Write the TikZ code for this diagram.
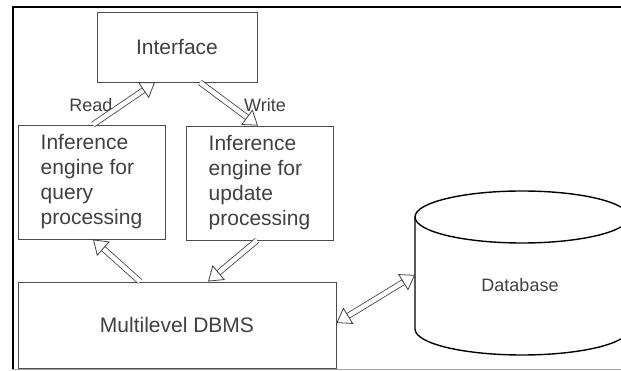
\documentclass[tikz,border=0pt]{standalone}
\usepackage{fontspec}
\setmainfont{Liberation Sans}
\usetikzlibrary{arrows.meta}
\def\frametop{(12,364) -- (621,364)}
\def\frameleft{(13,365) -- (13,2)}
\def\dbtop{(522,154) ellipse (107 and 26)}
\def\dbside{(415,154) -- (415,42) arc (180:360:107 and 26) -- (629,154)}
\begin{document}
\begin{tikzpicture}[x=1pt,y=1pt,
  box/.style={draw=black!70, line width=0.9pt, text=black!75, font=\fontsize{21}{25}\selectfont},
  lbl/.style={text=black!75, font=\fontsize{18}{20}\selectfont},
  hol/.style={draw=black!75, line width=0.8pt, double=white, double distance=4.5pt,
    -{Triangle[open, length=14pt, width=19pt]}},
  hol2/.style={hol, {Triangle[open, length=14pt, width=19pt]}-{Triangle[open, length=14pt, width=19pt]}}]
\useasboundingbox (0,0) rectangle (621,371);
\draw[line width=2.5pt] \frametop;
\draw[line width=1.8pt] \frameleft;
\draw[black!35, line width=1pt] (12,1.5) -- (621,1.5);
% boxes
\node[box, minimum width=160pt, minimum height=70pt] (iface) at (177,324) {Interface};
\node[box, minimum width=147pt, minimum height=114pt, align=left] (qe) at (91.5,189) {Inference\\engine for\\query\\processing};
\node[box, minimum width=147pt, minimum height=114pt, align=left] (ue) at (259.5,188) {Inference\\engine for\\update\\processing};
\node[box, minimum width=318pt, minimum height=86pt] (dbms) at (177,46) {Multilevel DBMS};
% database
\draw[line width=1.4pt] \dbtop;
\draw[line width=1.4pt] \dbside;
\node[lbl] (db) at (520,86) {Database};
\coordinate (dbl) at (415,96);
% labels
\node[lbl] (rd) at (91,266) {Read};
\node[lbl] (wr) at (265,266) {Write};
% arrows
\draw[hol] ([xshift=1.5pt]qe.north) -- ([xshift=-22pt]iface.south);
\draw[hol] ([xshift=23pt]iface.south) -- ([xshift=-1.5pt]ue.north);
\draw[hol] ([xshift=-37pt]dbms.north) -- ([xshift=1.5pt]qe.south);
\draw[hol] ([xshift=-2.5pt]ue.south) -- ([xshift=31pt]dbms.north);
\draw[hol2] ([yshift=2pt]dbms.east) -- (dbl);
\end{tikzpicture}
\end{document}
